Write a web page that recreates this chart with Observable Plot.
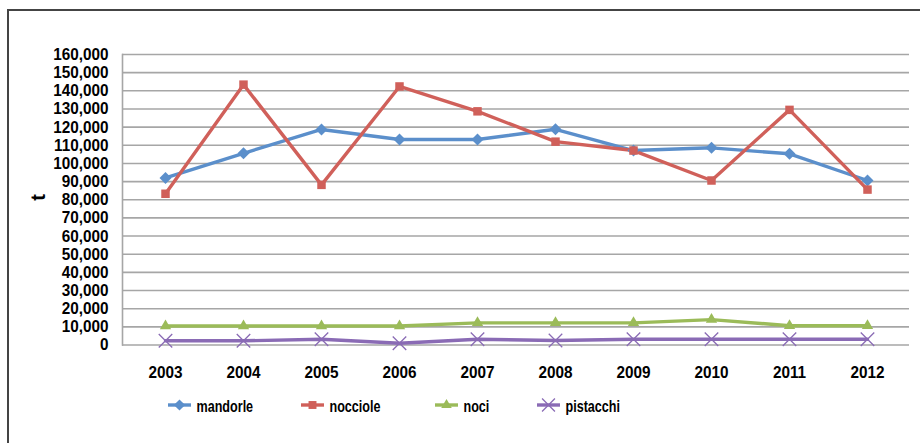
<!DOCTYPE html>
<html>
<head>
<meta charset="utf-8">
<script src="https://cdn.jsdelivr.net/npm/d3@7"></script>
<script src="https://cdn.jsdelivr.net/npm/@observablehq/plot@0.6"></script>
<style>
  html, body { margin: 0; padding: 0; background: #fff; }
  #wrap { position: relative; width: 920px; height: 443px; overflow: hidden; font-family: "Liberation Sans", Arial, sans-serif; }
  #frame { position: absolute; left: 7px; top: 9px; width: 940px; height: 460px; border-top: 2px solid #444; border-left: 2px solid #444; box-sizing: border-box; }
  #chart { position: absolute; left: 0; top: 0; }
  #legend { position: absolute; top: 0; left: 0; }
</style>
</head>
<body>
<div id="wrap">
  <div id="frame"></div>
  <div id="chart"></div>
  <svg id="legend" width="920" height="443"></svg>
</div>
<script>
// Annual production in tonnes, by nut
const years = ["2003", "2004", "2005", "2006", "2007", "2008", "2009", "2010", "2011", "2012"];
const mandorle  = [92000, 105600, 118700, 113200, 113200, 118800, 107100, 108600, 105300, 90600];
const nocciole  = [83300, 143400, 88200, 142400, 128700, 112000, 107100, 90600, 129500, 85600];
const noci      = [10500, 10500, 10500, 10500, 12200, 12200, 12200, 14000, 10600, 10600];
const pistacchi = [2300, 2300, 3200, 1000, 3200, 2500, 3200, 3200, 3200, 3200];
const yTicks = d3.range(0, 160001, 10000);

const seriesNames = ["mandorle", "nocciole", "noci", "pistacchi"];
const seriesValues = [mandorle, nocciole, noci, pistacchi];
const colors = ["#5b8fcb", "#d0605a", "#9bbb59", "#8a6bb5"];
const symbols = ["diamond2", "square2", "triangle2", "times"];

const rows = seriesNames.flatMap((name, i) =>
  years.map((year, j) => ({ series: name, year, value: seriesValues[i][j] }))
);

const fmt = d3.format(",");
const font = "'Liberation Sans', Arial, sans-serif";

// Squeeze glyphs horizontally to get a condensed bold look
function condense(textEl, factor) {
  const len = textEl.getComputedTextLength();
  textEl.setAttribute("textLength", (len * factor).toFixed(2));
  textEl.setAttribute("lengthAdjust", "spacingAndGlyphs");
}

const chart = Plot.plot({
  width: 920,
  height: 443,
  marginLeft: 122,
  marginRight: 11,
  marginTop: 54,
  marginBottom: 98.5,
  style: { fontFamily: font, fontSize: "17px", fontWeight: "bold", color: "#000", background: "transparent" },
  x: { type: "point", domain: years, padding: 0.5, label: null },
  y: { domain: [0, 160000], label: null },
  color: { domain: seriesNames, range: colors },
  symbol: { domain: seriesNames, range: symbols },
  marks: [
    Plot.gridY(yTicks, { stroke: "#a6a6a6", strokeOpacity: 1, strokeWidth: 1.6 }),
    Plot.frame({ anchor: "left", stroke: "#a6a6a6", strokeWidth: 1.6 }),
    Plot.axisY(yTicks, { tickSize: 0, tickPadding: 14, tickFormat: fmt, fontSize: 17, fontWeight: "bold", fill: "#000" }),
    Plot.axisX({ tickSize: 0, tickPadding: 21, fontSize: 17, fontWeight: "bold", fill: "#000" }),
    Plot.line(rows, { x: "year", y: "value", z: "series", stroke: "series", strokeWidth: 3.4 }),
    Plot.dot(rows.filter(d => d.series !== "pistacchi"), {
      x: "year", y: "value", symbol: "series", fill: "series", stroke: "none", r: 5.4
    }),
    Plot.dot(rows.filter(d => d.series === "pistacchi"), {
      x: "year", y: "value", symbol: "series", stroke: "series", strokeWidth: 1.3, r: 6.2
    }),
    Plot.text(["t"], { frameAnchor: "left", dx: -84, dy: 1, rotate: -90, fontSize: 20, fontWeight: "bold", fill: "#000" })
  ]
});
document.getElementById("chart").appendChild(chart);

chart.querySelectorAll('g[aria-label="y-axis tick label"] text').forEach(t => condense(t, 0.9));
chart.querySelectorAll('g[aria-label="x-axis tick label"] text').forEach(t => condense(t, 0.9));

// Legend below the plot
const legend = d3.select("#legend")
  .style("font-family", font).style("font-weight", "bold").style("font-size", "17px");
const legendX = [168, 301, 435, 537];
const legendY = 405;
const legendSymbols = [d3.symbolDiamond2, d3.symbolSquare2, d3.symbolTriangle2, d3.symbolTimes];
seriesNames.forEach((name, i) => {
  const g = legend.append("g").attr("transform", `translate(${legendX[i]},${legendY})`);
  g.append("line").attr("x1", 0).attr("x2", 23).attr("y1", 0).attr("y2", 0)
    .attr("stroke", colors[i]).attr("stroke-width", 3.4);
  const sym = d3.symbol().type(legendSymbols[i]).size(i === 3 ? 110 : 80)();
  const p = g.append("path").attr("d", sym).attr("transform", "translate(11.5,0)");
  if (i === 3) p.attr("fill", "none").attr("stroke", colors[i]).attr("stroke-width", 1.3);
  else p.attr("fill", colors[i]);
  const t = g.append("text").attr("x", 28.5).attr("y", 6.5).attr("fill", "#000").text(name);
  condense(t.node(), 0.74);
});
</script>
</body>
</html>
